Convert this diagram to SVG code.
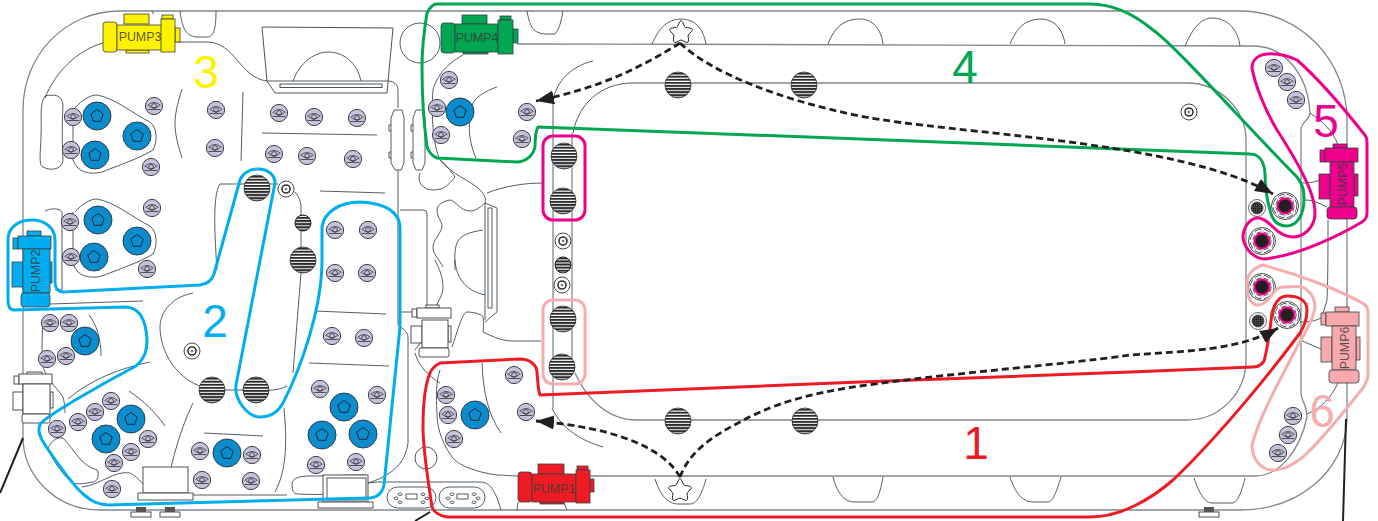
<svg xmlns="http://www.w3.org/2000/svg" width="1378" height="521" viewBox="0 0 1378 521">
<style>
text{font-family:"Liberation Sans",Arial,sans-serif;text-anchor:middle}
.l{fill:none;stroke:#3f4b55;stroke-width:.9}
.o{fill:none;stroke:#7f888e;stroke-width:1.3}
.w{fill:#fff;stroke:#3a3f45;stroke-width:.9}
.z{fill:none;stroke-width:3;stroke-linejoin:round}
.d{fill:none;stroke:#231f20;stroke-width:2.8;stroke-dasharray:7 4;marker-end:url(#ah)}
.n{font-size:46px}
.pt{font-size:12.4px;fill:#3a3a3a;fill-opacity:.85}
.p rect{stroke:#3a3f45;stroke-width:.8}
.star{fill:#fff;stroke:#231f20;stroke-width:1;stroke-linejoin:round}
</style>
<defs>
<marker id="ah" markerUnits="userSpaceOnUse" markerWidth="19" markerHeight="16" refX="18" refY="8" orient="auto"><path d="M0 1 18 8 0 15z" fill="#231f20"/></marker>
<pattern id="st" patternUnits="userSpaceOnUse" width="4" height="3.1"><rect width="4" height="3.1" fill="#fff"/><rect width="4" height="2" fill="#2b2b2d"/></pattern>
<pattern id="gd" patternUnits="userSpaceOnUse" width="2" height="2"><rect width="2" height="2" fill="#444"/><rect width="1" height="1" fill="#111"/></pattern>
<symbol id="j" overflow="visible" width="1" height="1"><circle r="8.6" fill="#c6c2dd" stroke="#3a3f45"/><path d="M-6.5 -.5Q0 -6.5 6.500 -.5M-6.500 3.500H6.500M-5.500 -.5Q0 4 5.500 -.5" fill="none" stroke="#333" stroke-width=".8"/><circle cy="0" r="2.400" fill="none" stroke="#333" stroke-width=".8"/></symbol>
<symbol id="b" overflow="visible" width="1" height="1"><circle r="14" fill="#0a8ccd" stroke="#2e3e4c"/><path d="M0 -6.5 6.2 -2 3.8 5.3H-3.8L-6.2 -2z" fill="none" stroke="#1e2a33"/></symbol>
<symbol id="g" overflow="visible" width="1" height="1"><circle r="13" fill="url(#st)" stroke="#2b2b2d" stroke-width=".8"/></symbol>
<symbol id="r" overflow="visible" width="1" height="1"><circle r="8" fill="#fff" stroke="#333" stroke-width=".9"/><circle r="4" fill="#fff" stroke="#333" stroke-width="1.6"/><circle r="1.3" fill="#777"/></symbol>
<symbol id="m" overflow="visible" width="1" height="1"><circle r="13.5" fill="#fff" stroke="#333" stroke-width=".9"/><circle r="10.5" fill="none" stroke="#333" stroke-width="3.4" stroke-dasharray="6 2.5"/><circle r="10.5" fill="none" stroke="#fff" stroke-width="2" stroke-dasharray="6 2.5"/><circle r="7.5" fill="#231f20" stroke="#ec008c" stroke-width="2"/></symbol>
<symbol id="c" overflow="visible" width="1" height="1"><circle r="8.5" fill="#fff" stroke="#444" stroke-width=".8"/><circle r="6" fill="url(#gd)" stroke="#444" stroke-width=".8"/></symbol>
<symbol id="s" overflow="visible" width="1" height="1"><path class="star" d="M0 -11.5C2 -11 3 -5 4.5 -4.5C6.5 -4.5 11 -4 11.5 -2.5C11 0 7 2 7 4C7.5 6 8 10 6.5 10.5C4 10.5 1.5 8 0 8C-1.5 8 -4 10.5 -6.5 10.5C-8 10 -7.5 6 -7 4C-7 2 -11 0 -11.5 -2.5C-11 -4 -6.5 -4.5 -4.5 -4.5C-3 -5 -2 -11 0 -11.5z"/></symbol>
</defs>

<g id="tub">
<path class="o" d="M120 11H1240C1300 11 1347 60 1347 120V420C1345 470 1300 510 1240 510H100C55 510 23 475 23 437V110C23 55 65 11 120 11z"/>
<path class="o" d="M590 476H1255C1280 476 1300 450 1307 417C1307 405 1301 400 1301 393V130C1301 122 1310 120 1310 113C1308 75 1285 46 1253 46 1100 45 800 44 517 44"/>
<path class="o" d="M633 83H1187C1220 83 1246 110 1246 140V360C1246 393 1220 420 1187 420H637C605 420 585 395 575 373"/>
<path class="l" d="M573 133C578 105 600 83 633 83"/>
<path class="o" d="M572 133V373M553 105V408"/>
<path class="l" d="M593 61C570 66 553 85 553 105M552 408C562 430 583 441 603 447"/>
<path class="l" d="M652 44C660 26 668 20 680 19C695 19 703 28 706 44M828 44C835 26 845 19 860 19C872 19 881 28 883 44M1010 44C1018 26 1025 20 1040 19C1055 19 1063 30 1065 44M1185 46C1192 30 1200 18 1212 18C1228 18 1238 30 1240 46"/>
<path class="l" d="M655 479C660 495 668 504 678 504H690C698 504 703 490 706 479M833 477C838 495 845 502 855 502H872C878 502 881 488 883 477M1010 477C1015 492 1022 502 1033 502H1048C1053 502 1057 490 1061 477M1194 478C1199 493 1205 503 1212 503H1232C1238 503 1242 490 1245 478"/>
<path class="l" d="M180 11C182 30 188 37 197 37H207C214 37 216 28 216 11M527 11C530 28 534 33 545 34H555C559 30 561 22 563 11M153 11V14"/>
<path class="l" d="M103 43C78 50 55 72 45 98M175 42H207C235 42 240 78 267 81H388C394 81 398 85 398 90V108M398 170V325C405 330 408 333 408 337V443C405 465 390 476 368 483"/>
<path class="w" d="M262 27 393 28 387 93H275L267 81z"/>
<rect class="w" x="280" y="84" width="102" height="3.5"/>
<path class="l" d="M293 81C300 62 315 52 328 52C343 52 357 62 361 81M267 81H388"/>
<circle class="l" cx="420" cy="43" r="20"/>
<g class="l">
<path d="M398 110 402 110 404 118V163L401 170H395L391 163V118L394 110z"/><path d="M391 125H389V131H391M391 152H389V158H391"/>
<path d="M418 110 422 110 425 118V163L422 170H416L413 163V118L416 110z"/><path d="M413 125H411V131H413M413 152H411V158H413"/>
<path d="M45 96C55 94 62 95 63 105C62 125 62 145 63 160C62 170 50 171 43 167C38 165 41 150 41 135C42 120 39 105 45 96z"/>
<path d="M75 108C82 100 90 95 97 95C115 98 135 115 150 122C157 128 158 140 153 150C140 158 120 165 107 170C100 174 85 175 78 168Q75 165 73 160M73 108V160"/>
<path d="M75 212C82 204 90 199 97 199C115 202 135 219 150 226C157 232 158 244 153 254C140 262 120 269 107 274C100 278 85 279 78 272Q75 269 73 264M73 212V264"/>
<path d="M45 211C50 208 60 208 62 212V290H55"/>
<path d="M182 89C177 105 175 115 175 123C175 135 178 145 182 158M243 92 241 161M262 133 377 135M320 191 385 193"/>
<path d="M217 270C215 240 212 195 220 184H278M295 192C299 197 301 202 301 207V273L293 373"/>
<path d="M50 304 143 301M193 293C172 297 160 312 160 327C160 350 175 382 212 390H256C270 391 280 390 287 386"/>
<path d="M315 311 386 314M309 363 389 366M204 433 263 436M129 391C145 402 155 412 165 426M193 403C180 430 172 460 167 487M284 408C287 440 287 470 275 492M68 399C90 380 120 368 150 362M89 315C97 325 101 340 101 356"/>
<path d="M43 320C42 335 42 350 42 363C45 378 55 385 63 397C65 405 65 410 65 413"/>
<path d="M48 448C52 440 58 437 63 438C75 450 80 465 97 470C100 475 97 482 93 482C85 483 80 485 73 483C65 478 52 460 48 448z"/>
<path d="M82 487C100 485 115 470 130 473C140 478 145 488 150 490C158 495 165 495 170 495H287"/>
<path d="M292 484C292 478 300 476 310 476C330 476 350 475 366 475C368 482 367 490 365 494C340 494 315 495 298 494C293 494 292 490 292 484z"/>
<path d="M378 482H480C490 482 495 490 501 510M368 483 378 482"/>
<path d="M518 476C510 476 505 475 497 475C475 472 458 465 452 457C440 440 437 425 437 413C436 395 436 382 440 370M482 363C483 390 488 415 501 433M518 502 517 510M564 503 567 510"/>
<circle cx="426" cy="458" r="11"/>
<path d="M463 55C445 65 436 78 433 90C431 115 433 145 440 160C452 175 470 180 480 190C486 196 486 200 485 203C478 209 475 211 470 211C460 211 455 200 450 200C443 201 437 205 437 210C437 218 442 220 442 227C440 235 433 240 433 247C433 255 440 260 443 267"/>
<path d="M420 173C417 180 421 190 433 190C445 190 450 183 455 177C450 170 445 163 440 160"/>
<path d="M497 87C485 91 476 97 473 103C466 125 470 145 476 158M487 193C505 186 525 183 543 183M483 230C470 232 460 235 457 243C454 250 455 260 455 270"/>
<path d="M400 210H423Q427 210 427 214V307M435 260C440 270 443 278 443 287C443 297 436 303 435 310M455 260C456 275 463 290 485 295M483 332C490 335 500 341 513 341H541M485 203V320M497 208V312L485 322M485 203 497 208"/>
<rect x="488" y="208" width="4" height="100"/>
<path d="M400 312H417M415 350C420 343 425 337 430 335C438 335 445 337 447 340M452 347C458 330 462 313 467 312C475 312 483 315 483 317C484 325 483 330 483 332M415 353C417 360 420 365 422 367C428 375 435 380 440 383"/>
<path d="M1328 220C1328 240 1328 280 1327 300L1322 317M1301 183C1310 183 1315 182 1320 180M1305 200C1315 200 1322 205 1327 207M1310 113C1320 120 1333 130 1338 145M1300 322C1310 322 1315 321 1321 318M1300 340 1321 349M1338 383C1330 400 1320 408 1307 414"/>
</g>
<g class="w"><rect x="143" y="467" width="45" height="26"/><rect x="138" y="493" width="55" height="7"/><rect x="323" y="475" width="45" height="27"/><rect x="327" y="478" width="39" height="22"/><rect x="318" y="502" width="55" height="6"/>
<rect x="131" y="512" width="20" height="5"/><rect x="160" y="512" width="20" height="5"/><rect x="1199" y="512" width="20" height="5"/></g>
<rect x="136" y="507" width="10" height="5" fill="#555"/><rect x="165" y="507" width="10" height="5" fill="#555"/><rect x="1204" y="507" width="10" height="5" fill="#555"/>
<path d="M23 438 0 493M415 521 430 512M1346 419 1343 521" fill="none" stroke="#231f20" stroke-width="2"/>
</g>

<g id="control-panels" class="l">
<rect x="387" y="487" width="49" height="21" rx="10.5"/><rect x="439" y="487" width="46" height="21" rx="10.5"/>
<rect x="406" y="494" width="11" height="5"/><rect x="457" y="494" width="11" height="5"/>
<path d="M400 493a2 1.3 0 1 0 .1 0M396 497a2 1.3 0 1 0 .1 0M400 501a2 1.3 0 1 0 .1 0M423 493a2 1.3 0 1 0 .1 0M427 497a2 1.3 0 1 0 .1 0M423 501a2 1.3 0 1 0 .1 0M452 493a2 1.3 0 1 0 .1 0M448 497a2 1.3 0 1 0 .1 0M452 501a2 1.3 0 1 0 .1 0M474 493a2 1.3 0 1 0 .1 0M478 497a2 1.3 0 1 0 .1 0M474 501a2 1.3 0 1 0 .1 0"/>
</g>

<g id="valve-left" class="w"><rect x="27" y="372" width="15" height="3"/><rect x="14" y="376" width="5" height="8"/><rect x="19" y="374" width="33" height="10"/><rect x="13" y="392" width="10" height="18"/><rect x="50" y="392" width="3" height="16"/><rect x="23" y="384" width="27" height="30"/><rect x="22" y="414" width="28" height="9" rx="2"/></g>
<g id="valve-centre" class="w"><rect x="426" y="305" width="13" height="3"/><rect x="412" y="309" width="5" height="8"/><rect x="417" y="308" width="34" height="10"/><rect x="411" y="326" width="11" height="17"/><rect x="448" y="326" width="3" height="16"/><rect x="422" y="320" width="26" height="28"/><rect x="419" y="348" width="30" height="9" rx="2"/></g>

<g id="jets">
<use href="#j" x="73" y="117"/><use href="#j" x="71" y="150"/><use href="#j" x="154" y="106"/><use href="#j" x="151" y="167"/><use href="#j" x="216" y="110"/><use href="#j" x="215" y="148"/><use href="#j" x="279" y="113"/><use href="#j" x="314" y="117"/><use href="#j" x="357" y="118"/><use href="#j" x="274" y="154"/><use href="#j" x="307" y="156"/><use href="#j" x="353" y="159"/><use href="#j" x="70" y="222"/><use href="#j" x="71" y="257"/><use href="#j" x="152" y="208"/><use href="#j" x="147" y="269"/>
<use href="#j" x="50" y="323"/><use href="#j" x="69" y="323"/><use href="#j" x="47" y="359"/><use href="#j" x="66" y="356"/><use href="#j" x="111" y="401"/><use href="#j" x="95" y="412"/><use href="#j" x="78" y="422"/><use href="#j" x="57" y="429"/><use href="#j" x="148" y="439"/><use href="#j" x="131" y="452"/><use href="#j" x="114" y="463"/><use href="#j" x="112" y="489"/><use href="#j" x="200" y="451"/><use href="#j" x="202" y="480"/><use href="#j" x="252" y="455"/><use href="#j" x="251" y="481"/><use href="#j" x="320" y="389"/><use href="#j" x="377" y="395"/><use href="#j" x="316" y="465"/><use href="#j" x="356" y="462"/><use href="#j" x="332" y="336"/><use href="#j" x="364" y="338"/><use href="#j" x="335" y="273"/><use href="#j" x="367" y="273"/><use href="#j" x="335" y="230"/><use href="#j" x="368" y="230"/>
<use href="#j" x="449" y="80"/><use href="#j" x="437" y="108"/><use href="#j" x="441" y="135"/><use href="#j" x="527" y="112"/><use href="#j" x="522" y="139"/><use href="#j" x="514" y="375"/><use href="#j" x="446" y="395"/><use href="#j" x="448" y="415"/><use href="#j" x="454" y="439"/><use href="#j" x="526" y="412"/>
<use href="#j" x="1274" y="68"/><use href="#j" x="1287" y="82"/><use href="#j" x="1296" y="100"/><use href="#j" x="1293" y="416"/><use href="#j" x="1288" y="435"/><use href="#j" x="1278" y="453"/>
<use href="#b" x="97" y="116"/><use href="#b" x="137" y="136"/><use href="#b" x="95" y="155"/><use href="#b" x="98" y="220"/><use href="#b" x="137" y="241"/><use href="#b" x="94" y="257"/><use href="#b" x="85" y="341"/><use href="#b" x="131" y="419"/><use href="#b" x="106" y="439"/><use href="#b" x="227" y="453"/><use href="#b" x="344" y="407"/><use href="#b" x="322" y="435"/><use href="#b" x="363" y="434"/><use href="#b" x="460" y="112"/><use href="#b" x="475" y="415"/>
</g>
<g id="grills">
<use href="#g" x="678" y="85"/><use href="#g" x="804" y="85"/><use href="#g" x="678" y="421"/><use href="#g" x="805" y="421"/><use href="#g" x="564" y="156"/><use href="#g" x="563" y="201"/><use href="#g" x="563" y="319"/><use href="#g" x="562" y="367"/><use href="#g" x="257" y="188"/><use href="#g" x="303" y="260"/><use href="#g" x="212" y="390"/><use href="#g" x="256" y="390"/>
<circle cx="303" cy="223" r="8" fill="url(#st)" stroke="#222"/><circle cx="563" cy="265" r="8" fill="url(#st)" stroke="#222"/>
<use href="#r" x="286" y="189"/><use href="#r" x="192" y="351"/><use href="#r" x="563" y="241"/><use href="#r" x="562" y="285"/><use href="#r" x="1189" y="112"/>
</g>
<g id="nozzles"><use href="#m" x="1285" y="206"/><use href="#m" x="1262" y="241"/><use href="#m" x="1262" y="287"/><use href="#m" x="1287" y="315"/><use href="#c" x="1257" y="208"/><use href="#c" x="1258" y="321"/></g>
<g id="star-top"><use href="#s" x="681" y="32"/></g>
<g id="star-bottom"><use href="#s" x="680" y="490"/></g>

<g id="pump3" class="p" fill="#fff200"><rect x="124" y="14" width="25" height="10"/><rect x="126" y="50" width="23" height="3"/><rect x="103" y="22" width="14" height="30" rx="3"/><rect x="117" y="25" width="45" height="25"/><rect x="162" y="15" width="11" height="4"/><rect x="175" y="28" width="5" height="14"/><rect x="161" y="19" width="14" height="33"/><text class="pt" x="140" y="41">PUMP3</text></g>
<g id="pump4" class="p" fill="#00a651"><rect x="462" y="15" width="25" height="9"/><rect x="463" y="52" width="25" height="2"/><rect x="441" y="23" width="14" height="30" rx="3"/><rect x="455" y="24" width="43" height="28"/><rect x="500" y="16" width="11" height="4"/><rect x="513" y="29" width="5" height="14"/><rect x="498" y="20" width="15" height="34"/><text class="pt" x="477" y="42">PUMP4</text></g>
<g id="pump1" class="p" fill="#ed1c24"><rect x="538" y="464" width="26" height="10"/><rect x="540" y="502" width="24" height="2"/><rect x="518" y="472" width="14" height="30" rx="3"/><rect x="532" y="474" width="44" height="28"/><rect x="577" y="466" width="11" height="4"/><rect x="590" y="479" width="4" height="13"/><rect x="576" y="470" width="14" height="33"/><text class="pt" x="554" y="493">PUMP1</text></g>
<g id="pump2" class="p" fill="#00aeef"><rect x="27" y="231" width="14" height="5"/><rect x="13" y="238" width="5" height="11"/><rect x="18" y="236" width="33" height="13"/><rect x="12" y="262" width="11" height="25"/><rect x="49" y="262" width="3" height="21"/><rect x="23" y="249" width="27" height="44"/><rect x="21" y="293" width="29" height="14" rx="3"/><text class="pt" transform="translate(40 271) rotate(-90)">PUMP2</text></g>
<g id="pump5" class="p" fill="#ec008c"><rect x="1333" y="144" width="14" height="4"/><rect x="1320" y="150" width="5" height="12"/><rect x="1325" y="148" width="33" height="14"/><rect x="1319" y="174" width="11" height="25"/><rect x="1354" y="174" width="4" height="22"/><rect x="1330" y="162" width="24" height="45"/><rect x="1327" y="207" width="30" height="12" rx="3"/><text class="pt" transform="translate(1347 184) rotate(-90)">PUMP5</text></g>
<g id="pump6" class="p" fill="#f8a9ac"><rect x="1335" y="307" width="14" height="5"/><rect x="1321" y="313" width="5" height="12"/><rect x="1326" y="312" width="33" height="14"/><rect x="1321" y="337" width="11" height="25"/><rect x="1356" y="337" width="4" height="23"/><rect x="1332" y="326" width="24" height="44"/><rect x="1329" y="370" width="30" height="13" rx="3"/><text class="pt" transform="translate(1349 348) rotate(-90)">PUMP6</text></g>

<g id="zones">
<path id="zone-2" class="z" stroke="#00aeef" d="M8 240C8 226 20 220 32 220C45 220 55 228 55 240V282C55 288 58 292 64 292L200 285C208 284 212 280 214 274L240 180C243 173 250 169 258 169C268 169 275 175 275 183L236 385C234 400 248 417 260 417C270 417 278 412 283 403C300 370 322 310 322 260V227C324 212 340 202 360 202C385 203 400 212 400 228V327L384 485C382 494 377 498 368 498L108 505C95 504 90 500 82 493C70 482 48 450 42 440C39 434 37 428 41 423C50 414 100 385 136 366C145 358 147 350 147 340C146 320 140 307 125 307L14 310C10 310 8 306 8 300z"/>
<path id="zone-4" class="z" stroke="#00a651" d="M437 4H1090C1115 4 1135 15 1153 30C1175 45 1250 130 1297 177C1303 185 1304 190 1304 198C1304 206 1303 212 1300 217C1296 224 1292 226 1287 226C1278 226 1272 220 1270 210C1267 200 1265 185 1265 173C1264 160 1258 154 1250 154L860 139 538 127C536 130 535 138 535 147C533 156 525 162 517 162L437 158C432 156 429 152 427 147C424 125 422 90 422 67C422 45 425 25 427 13C430 7 433 4 437 4z"/>
<path id="zone-1" class="z" stroke="#ed1c24" d="M440 363 520 359C530 359 537 365 537 373C538 382 538 390 540 395L860 382 1130 372 1253 367C1260 367 1265 362 1265 357C1268 345 1270 330 1272 313C1275 302 1280 296 1287 296C1298 296 1307 300 1307 310C1307 320 1304 326 1300 333C1265 380 1215 440 1173 480C1150 500 1120 517 1090 517H447C440 516 434 512 432 507C428 480 423 450 423 427C423 405 425 385 430 373C432 368 436 365 440 363z"/>
<rect id="zone-5b" class="z" stroke="#ec008c" x="543" y="136" width="42" height="84" rx="10"/>
<path id="zone-5" class="z" stroke="#ec008c" d="M1267 54C1258 55 1252 60 1252 68C1255 85 1265 110 1277 130C1290 150 1303 172 1310 190C1313 198 1315 205 1315 213C1315 228 1303 237 1293 237C1285 237 1278 232 1273 227C1268 222 1263 218 1258 218C1250 218 1243 227 1243 238C1245 250 1255 259 1265 259C1300 255 1340 235 1362 222Q1367 219 1367 213L1367 142Q1367 137 1364 134C1345 110 1320 80 1297 60C1288 56 1278 53 1267 54z"/>
<rect id="zone-6b" class="z" stroke="#f4aeb0" x="543" y="300" width="42" height="84" rx="10"/>
<path id="zone-6" class="z" stroke="#f4aeb0" d="M1263 265C1253 268 1247 275 1247 283C1247 295 1250 305 1258 305C1270 305 1272 287 1283 287C1295 286 1305 286 1307 290C1313 295 1315 300 1315 307C1313 320 1305 333 1297 347C1280 380 1260 415 1252 445C1252 458 1260 470 1273 470C1285 470 1295 463 1303 457C1325 437 1345 410 1363 388Q1368 380 1368 375V312Q1368 307 1364 304C1340 290 1300 275 1263 265z"/>
</g>

<g id="connectors">
<path class="d" d="M680 43C640 68 600 88 536 101"/>
<path class="d" d="M680 43C710 72 780 100 860 116C950 134 1180 140 1273 194"/>
<path class="d" d="M680 477C665 450 620 428 536 421"/>
<path class="d" d="M680 477C690 450 715 435 740 422C780 400 820 392 860 386C960 372 1060 365 1130 355C1190 351 1240 350 1278 328"/>
</g>

<g id="labels">
<text class="n" x="206" y="88" fill="#fff200">3</text>
<text class="n" x="965" y="83" fill="#00a651">4</text>
<text class="n" x="1326" y="137" fill="#ec008c">5</text>
<text class="n" x="1322" y="427" fill="#f4aeb0">6</text>
<text class="n" x="976" y="459" fill="#ed1c24">1</text>
<text class="n" x="215" y="337" fill="#00aeef">2</text>
</g>
</svg>
